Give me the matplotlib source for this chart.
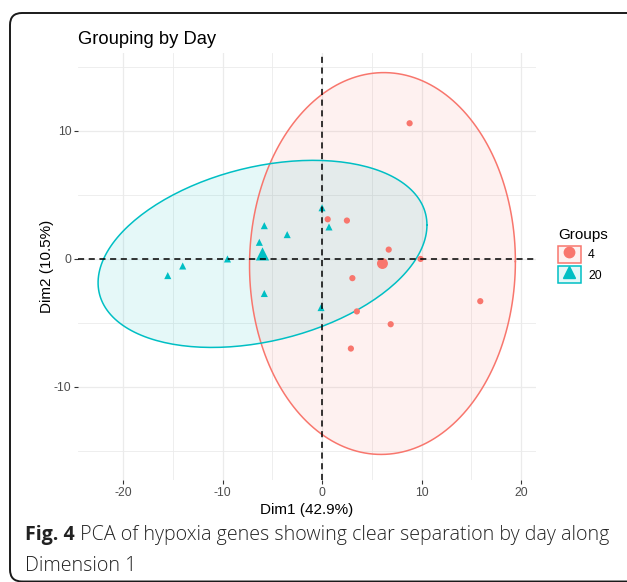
import numpy as np
import matplotlib
matplotlib.use("Agg")
import matplotlib.pyplot as plt
from matplotlib.patches import FancyBboxPatch, Rectangle
from matplotlib.lines import Line2D
from matplotlib.legend_handler import HandlerTuple

# ---- data ----
groups = ["4", "20"]
day4_dim1 = [8.8, 0.57, 2.5, 6.7, 9.9, 3.05, 15.9, 3.5, 6.9, 2.9]
day4_dim2 = [10.6, 3.1, 3.0, 0.73, 0.0, -1.5, -3.3, -4.1, -5.1, -7.0]
day20_dim1 = [0.0, 0.7, -5.8, -3.5, -6.3, -9.5, -14.0, -15.5, -5.8, -0.1]
day20_dim2 = [4.0, 2.5, 2.6, 1.9, 1.3, 0.0, -0.55, -1.3, -2.7, -3.8]
xticks = [-20, -10, 0, 10, 20]
yticks = [-10, 0, 10]
xlabel = "Dim1 (42.9%)"
ylabel = "Dim2 (10.5%)"
title = "Grouping by Day"

colors = ["#F8766D", "#00BFC4"]
markers = ["o", "^"]
sizes = [20, 26]
csizes = [62, 90]

plt.rcParams["font.family"] = ["Liberation Sans", "DejaVu Sans"]
plt.rcParams["axes.unicode_minus"] = False

W, H, DPI = 627, 582, 100
fig = plt.figure(figsize=(W / DPI, H / DPI), dpi=DPI)
ax = fig.add_axes([78 / W, 1 - 480 / H, (536 - 78) / W, (480 - 53) / H])


def norm_ellipse(x, y, level=0.95, n=200):
    pts = np.column_stack([x, y])
    center = pts.mean(axis=0)
    cov = np.cov(pts, rowvar=False)
    d = len(x) - 1
    fq = (d / 2.0) * ((1 - level) ** (-2.0 / d) - 1)  # F(2, d) quantile
    r = np.sqrt(2 * fq)
    t = np.linspace(0, 2 * np.pi, n)
    circ = np.column_stack([np.cos(t), np.sin(t)])
    L = np.linalg.cholesky(cov)
    e = center + r * circ @ L.T
    return e[:, 0], e[:, 1], center


data = [(day4_dim1, day4_dim2), (day20_dim1, day20_dim2)]
for (dx, dy), c, m, s, cs in zip(data, colors, markers, sizes, csizes):
    ex, ey, cen = norm_ellipse(dx, dy)
    ax.fill(ex, ey, facecolor=c, alpha=0.1, edgecolor="none", zorder=2)
    ax.plot(ex, ey, color=c, lw=1.1, zorder=3)
    ax.scatter(dx, dy, s=s, marker=m, color=c, edgecolors="none", zorder=4)
    ax.scatter([cen[0]], [cen[1]], s=cs, marker=m, color=c, edgecolors="none", zorder=4)

ax.axhline(0, color="black", lw=1.1, ls=(0, (4, 3)), zorder=5)
ax.axvline(0, color="black", lw=1.1, ls=(0, (4, 3)), zorder=5)

ax.set_xlim(-24.52, 21.5)
ax.set_ylim(-17.27, 16.09)
ax.set_xticks(xticks)
ax.set_yticks(yticks)
ax.set_xticks([-15, -5, 5, 15], minor=True)
ax.set_yticks([-15, -5, 5, 15], minor=True)
ax.grid(True, which="major", color="#EBEBEB", lw=0.9, zorder=0)
ax.grid(True, which="minor", color="#EBEBEB", lw=0.6, zorder=0)
ax.set_axisbelow(True)
for sp in ax.spines.values():
    sp.set_visible(False)
ax.tick_params(which="major", length=2.75, width=0.8, color="#333333",
               labelcolor="#4D4D4D", labelsize=8.8, pad=2)
ax.tick_params(which="minor", length=0)
ax.set_xlabel(xlabel, fontsize=11, labelpad=3)
ax.set_ylabel(ylabel, fontsize=11, labelpad=0)

fig.text(78 / W, 1 - 44 / H, title, fontsize=13.2, ha="left", va="baseline")

# legend
handles = []
for c, m in zip(colors, markers):
    box = Rectangle((0, 0), 1, 1, facecolor=(*matplotlib.colors.to_rgb(c), 0.1),
                    edgecolor=c, lw=1.1)
    mk = Line2D([], [], marker=m, color=c, ls="none", markersize=7.5 if m == "o" else 8.5)
    handles.append((box, mk))
leg = fig.legend(handles, groups, title="Groups", loc="upper left",
                 bbox_to_anchor=(558 / W, 1 - 228 / H), frameon=False,
                 handler_map={tuple: HandlerTuple(ndivide=1, pad=0)},
                 handlelength=1.85, handleheight=1.75, handletextpad=0.6,
                 labelspacing=0.3, borderpad=0, borderaxespad=0,
                 fontsize=8.8, title_fontsize=11, alignment="left")

# rounded frame (right and bottom sides run to the image edge)
frame = FancyBboxPatch((0.10, 0.005), 6.4, 5.685,
                       boxstyle="round,pad=0,rounding_size=0.12",
                       transform=fig.dpi_scale_trans, facecolor="none",
                       edgecolor="#1a1a1a", lw=1.4, clip_on=False)
fig.patches.append(frame)

# caption
cfs = 14.1
cap1 = fig.text(25 / W, 1 - 540 / H, "Fig. 4", fontsize=cfs, fontweight="bold",
                family=["Open Sans", "DejaVu Sans"], color="#222222",
                ha="left", va="baseline")
fig.canvas.draw()
bb = cap1.get_window_extent(fig.canvas.get_renderer())
fig.text(bb.x1 / W, 1 - 540 / H, " PCA of hypoxia genes showing clear separation by day along",
         fontsize=cfs, fontweight="light", family=["Open Sans", "DejaVu Sans"],
         color="#222222", ha="left", va="baseline")
fig.text(25 / W, 1 - 571 / H, "Dimension 1", fontsize=cfs, fontweight="light",
         family=["Open Sans", "DejaVu Sans"], color="#222222",
         ha="left", va="baseline")

fig.savefig("out.png", dpi=DPI)
